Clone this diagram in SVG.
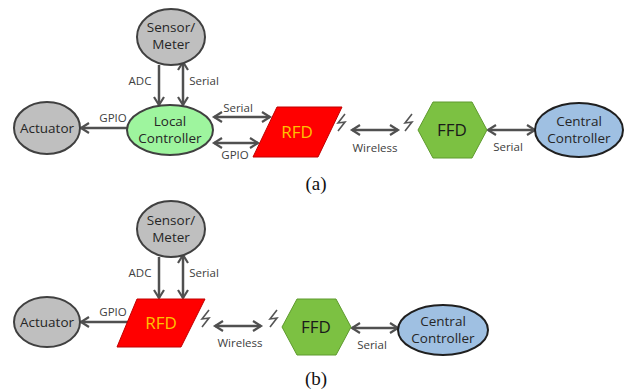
<svg xmlns="http://www.w3.org/2000/svg" width="626" height="392" viewBox="0 0 626 392">
<style>
.gray{fill:#bfbfbf;stroke:#404040;stroke-width:2}
.lc{fill:#9ef59e;stroke:#404040;stroke-width:2}
.rfd{fill:#ff0000;stroke:#c00000;stroke-width:1}
.ffd{fill:#7cc142;stroke:#5e9a2e;stroke-width:1}
.cc{fill:#9fc0e2;stroke:#1f1f1f;stroke-width:2}
.nt{font-family:"Open Sans","Liberation Sans",sans-serif;font-size:13.5px;fill:#262626;text-anchor:middle}
.rt{font-family:"Open Sans","Liberation Sans",sans-serif;font-size:17px;fill:#ffc000;text-anchor:middle}
.ft{font-family:"Open Sans","Liberation Sans",sans-serif;font-size:17px;fill:#1a1a1a;text-anchor:middle}
.lb{font-family:"Open Sans","Liberation Sans",sans-serif;font-size:11.5px;fill:#404040;text-anchor:middle}
.cap{font-family:"Liberation Serif",serif;font-size:19px;fill:#111;text-anchor:middle}
.ar{stroke:#505050;stroke-width:2.5;fill:none}
.lt{stroke:#555;stroke-width:1.6;fill:none;stroke-linejoin:miter}
</style>
<defs>
<marker id="h" markerUnits="userSpaceOnUse" markerWidth="14" markerHeight="14" refX="10" refY="6" orient="auto-start-reverse" viewBox="0 0 14 12">
<path d="M2,1 L10,6 L2,11" fill="none" stroke="#505050" stroke-width="2.2"/>
</marker>
</defs>
<g id="connectors">
<line class="ar" x1="159" y1="65" x2="159" y2="105" marker-end="url(#h)"/>
<line class="ar" x1="183" y1="62" x2="183" y2="105" marker-start="url(#h)" marker-end="url(#h)"/>
<line class="ar" x1="127" y1="128" x2="81" y2="128" marker-end="url(#h)"/>
<line class="ar" x1="214" y1="117" x2="270" y2="117" marker-start="url(#h)" marker-end="url(#h)"/>
<line class="ar" x1="214" y1="143" x2="258" y2="143" marker-start="url(#h)" marker-end="url(#h)"/>
<line class="ar" x1="352" y1="130" x2="398" y2="130" marker-start="url(#h)" marker-end="url(#h)"/>
<line class="ar" x1="488" y1="130" x2="535" y2="130" marker-start="url(#h)" marker-end="url(#h)"/>
<path class="lt" d="M345,114 L338,123 L345,122 L338,131"/>
<path class="lt" d="M412,114 L405,123 L412,122 L405,131"/>
<text class="lb" x="140" y="85">ADC</text>
<text class="lb" x="204" y="85">Serial</text>
<text class="lb" x="113" y="122">GPIO</text>
<text class="lb" x="238" y="112">Serial</text>
<text class="lb" x="235" y="159">GPIO</text>
<text class="lb" x="375" y="152">Wireless</text>
<text class="lb" x="508" y="151">Serial</text>

<line class="ar" x1="159" y1="257" x2="159" y2="298" marker-end="url(#h)"/>
<line class="ar" x1="183" y1="255" x2="183" y2="298" marker-start="url(#h)" marker-end="url(#h)"/>
<line class="ar" x1="128" y1="322" x2="81" y2="322" marker-end="url(#h)"/>
<line class="ar" x1="215" y1="326" x2="261" y2="326" marker-start="url(#h)" marker-end="url(#h)"/>
<line class="ar" x1="352" y1="328" x2="398" y2="328" marker-start="url(#h)" marker-end="url(#h)"/>
<path class="lt" d="M209,310 L202,319 L209,318 L202,327"/>
<path class="lt" d="M277,310 L270,319 L277,318 L270,327"/>
<text class="lb" x="140" y="277">ADC</text>
<text class="lb" x="204" y="277">Serial</text>
<text class="lb" x="113" y="316">GPIO</text>
<text class="lb" x="240" y="347">Wireless</text>
<text class="lb" x="372" y="349">Serial</text>
</g>

<g id="a-sensor"><ellipse class="gray" cx="171" cy="37" rx="34" ry="28"/><text class="nt" x="171" y="32">Sensor/</text><text class="nt" x="171" y="49">Meter</text></g>
<g id="a-actuator"><ellipse class="gray" cx="47" cy="128" rx="33" ry="26"/><text class="nt" x="47" y="133">Actuator</text></g>
<g id="a-local"><ellipse class="lc" cx="170" cy="130" rx="43" ry="25"/><text class="nt" x="170" y="126">Local</text><text class="nt" x="170" y="143">Controller</text></g>
<g id="a-rfd"><polygon class="rfd" points="277,107 342,107 318,157 253,157"/><text class="rt" x="297" y="138">RFD</text></g>
<g id="a-ffd"><polygon class="ffd" points="418,130 433,102 472,102 487,130 472,158 433,158"/><text class="ft" x="452" y="136">FFD</text></g>
<g id="a-central"><ellipse class="cc" cx="579" cy="130" rx="44" ry="27"/><text class="nt" x="579" y="126">Central</text><text class="nt" x="579" y="143">Controller</text></g>
<text class="cap" x="316" y="190">(a)</text>

<g id="b-sensor"><ellipse class="gray" cx="171" cy="229" rx="34" ry="28"/><text class="nt" x="171" y="225">Sensor/</text><text class="nt" x="171" y="242">Meter</text></g>
<g id="b-actuator"><ellipse class="gray" cx="47" cy="322" rx="33" ry="25"/><text class="nt" x="47" y="327">Actuator</text></g>
<g id="b-rfd"><polygon class="rfd" points="137,299 205,299 181,347 117,347"/><text class="rt" x="161" y="329">RFD</text></g>
<g id="b-ffd"><polygon class="ffd" points="282,327 297,299 336,299 351,327 336,355 297,355"/><text class="ft" x="316" y="333">FFD</text></g>
<g id="b-central"><ellipse class="cc" cx="443" cy="330" rx="45" ry="25"/><text class="nt" x="443" y="326">Central</text><text class="nt" x="443" y="343">Controller</text></g>
<text class="cap" x="316" y="385">(b)</text>
</svg>
